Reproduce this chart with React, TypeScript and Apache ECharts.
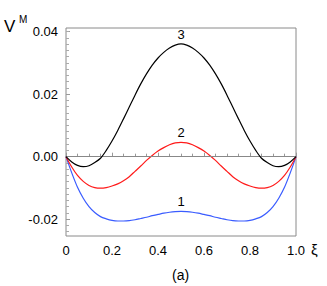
import React, { useEffect, useRef } from 'react';
import * as echarts from 'echarts';

const xi = [0, 0.025, 0.05, 0.075, 0.1, 0.125, 0.15, 0.175, 0.2, 0.225, 0.25, 0.275, 0.3, 0.325, 0.35, 0.375, 0.4, 0.425, 0.45, 0.475, 0.5,
  0.525, 0.55, 0.575, 0.6, 0.625, 0.65, 0.675, 0.7, 0.725, 0.75, 0.775, 0.8, 0.825, 0.85, 0.875, 0.9, 0.925, 0.95, 0.975, 1];
const curve1 = [0, -0.0052, -0.0098, -0.0133, -0.016, -0.0179, -0.0192, -0.0199, -0.0204, -0.0206, -0.0206, -0.0205, -0.0202, -0.0198, -0.0194, -0.0189, -0.0185, -0.0181, -0.0178, -0.0176, -0.0175,
  -0.0176, -0.0178, -0.0181, -0.0185, -0.0189, -0.0194, -0.0198, -0.0202, -0.0205, -0.0206, -0.0206, -0.0204, -0.0199, -0.0192, -0.0179, -0.016, -0.0133, -0.0098, -0.0052, 0];
const curve2 = [0, -0.0033, -0.006, -0.0079, -0.0092, -0.0099, -0.0101, -0.0099, -0.0094, -0.0087, -0.0077, -0.0064, -0.0047, -0.003, -0.0012, 0.0004, 0.0018, 0.0029, 0.0038, 0.0044, 0.0046,
  0.0044, 0.0038, 0.0029, 0.0018, 0.0004, -0.0012, -0.003, -0.0047, -0.0064, -0.0077, -0.0087, -0.0094, -0.0099, -0.0101, -0.0099, -0.0092, -0.0079, -0.006, -0.0033, 0];
const curve3 = [0, -0.0017, -0.0028, -0.0032, -0.0029, -0.0019, -0.0005, 0.002, 0.005, 0.0084, 0.0121, 0.0159, 0.0197, 0.0233, 0.0265, 0.0293, 0.0316, 0.0334, 0.0348, 0.0357, 0.0361,
  0.0357, 0.0348, 0.0334, 0.0316, 0.0293, 0.0265, 0.0233, 0.0197, 0.0159, 0.0121, 0.0084, 0.005, 0.002, -0.0005, -0.0019, -0.0029, -0.0032, -0.0028, -0.0017, 0];
const curveNames = ['1', '2', '3'];
const curveColors = ['#3a5cff', '#ff1a1a', '#000000'];
const yMajorTicks = [-0.02, 0, 0.02, 0.04];
const yMinorTicks = [-0.024, -0.022, -0.018, -0.016, -0.014, -0.012, -0.01, -0.008, -0.006, -0.004, -0.002, 0.002, 0.004, 0.006, 0.008, 0.01, 0.012, 0.014, 0.016, 0.018, 0.022, 0.024, 0.026, 0.028, 0.03, 0.032, 0.034, 0.036, 0.038, 0.04];
const yMin = -0.0254;
const yMax = 0.0412;
const peakIndex = 20;

const FONT = "'Liberation Sans', Arial, sans-serif";

export default function App() {
  const ref = useRef<HTMLDivElement>(null);
  useEffect(() => {
    if (!ref.current) return;
    const chart = echarts.init(ref.current, undefined, { renderer: 'svg' });
    const curves = [curve1, curve2, curve3];
    const series: any[] = curves.map((c, i) => ({
      type: 'line',
      name: curveNames[i],
      data: xi.map((x, j) => [x, c[j]]),
      showSymbol: false,
      smooth: 0.3,
      lineStyle: { color: curveColors[i], width: 1.2 },
      z: 3 + i,
      markPoint: {
        symbol: 'circle',
        symbolSize: 0,
        silent: true,
        data: [{ coord: [xi[peakIndex], c[peakIndex]] }],
        label: {
          show: true,
          position: 'top',
          distance: 3,
          formatter: curveNames[i],
          color: '#000',
          fontSize: 13,
          fontFamily: FONT,
        },
      },
      markLine: i === 0 ? {
        silent: true,
        symbol: ['none', 'none'],
        label: { show: false },
        lineStyle: { color: '#888', type: 'solid', width: 1 },
        data: [{ yAxis: 0 }],
      } : undefined,
    }));
    chart.setOption({
      animation: false,
      grid: { left: 66, right: 31, top: 28, bottom: 50, show: true, borderColor: '#8a8a8a', borderWidth: 1, backgroundColor: 'transparent' },
      xAxis: {
        type: 'value', min: 0, max: 1, interval: 0.2,
        axisLine: { show: false },
        axisTick: { show: true, inside: true, length: 4, lineStyle: { color: '#999' } },
        minorTick: { show: true, splitNumber: 4, length: 3, lineStyle: { color: '#999' } },
        splitLine: { show: false },
        axisLabel: { margin: 8, fontSize: 13, color: '#000', fontFamily: FONT, formatter: (v: number) => (v === 0 ? '0' : v.toFixed(1)) },
      },
      yAxis: [
        {
          type: 'value', min: yMin, max: yMax, position: 'left',
          axisLine: { show: false },
          axisTick: { show: true, inside: true, length: 4, customValues: yMajorTicks, lineStyle: { color: '#999' } },
          splitLine: { show: false },
          axisLabel: { margin: 8, fontSize: 13, color: '#000', fontFamily: FONT, customValues: yMajorTicks, formatter: (v: number) => v.toFixed(2) },
        },
        {
          type: 'value', min: yMin, max: yMax, position: 'left',
          axisLine: { show: false },
          axisTick: { show: true, inside: true, length: 3, customValues: yMinorTicks, lineStyle: { color: '#aaa' } },
          splitLine: { show: false },
          axisLabel: { show: false },
        },
      ],
      series,
      graphic: [
        { type: 'text', left: 4, top: 18, style: { text: 'V', fontSize: 17, fill: '#000', fontFamily: FONT } },
        { type: 'text', left: 19, top: 14, style: { text: 'M', fontSize: 10, fill: '#000', fontFamily: FONT } },
        { type: 'text', left: 311, top: 242, style: { text: 'ξ', fontSize: 15, fill: '#000', fontFamily: FONT } },
        { type: 'text', left: 172, top: 268, style: { text: '(a)', fontSize: 14, fill: '#000', fontFamily: FONT } },
      ],
    });
    return () => chart.dispose();
  }, []);
  return <div ref={ref} style={{ position: 'absolute', left: 0, top: 0, width: 327, height: 286 }} />;
}
